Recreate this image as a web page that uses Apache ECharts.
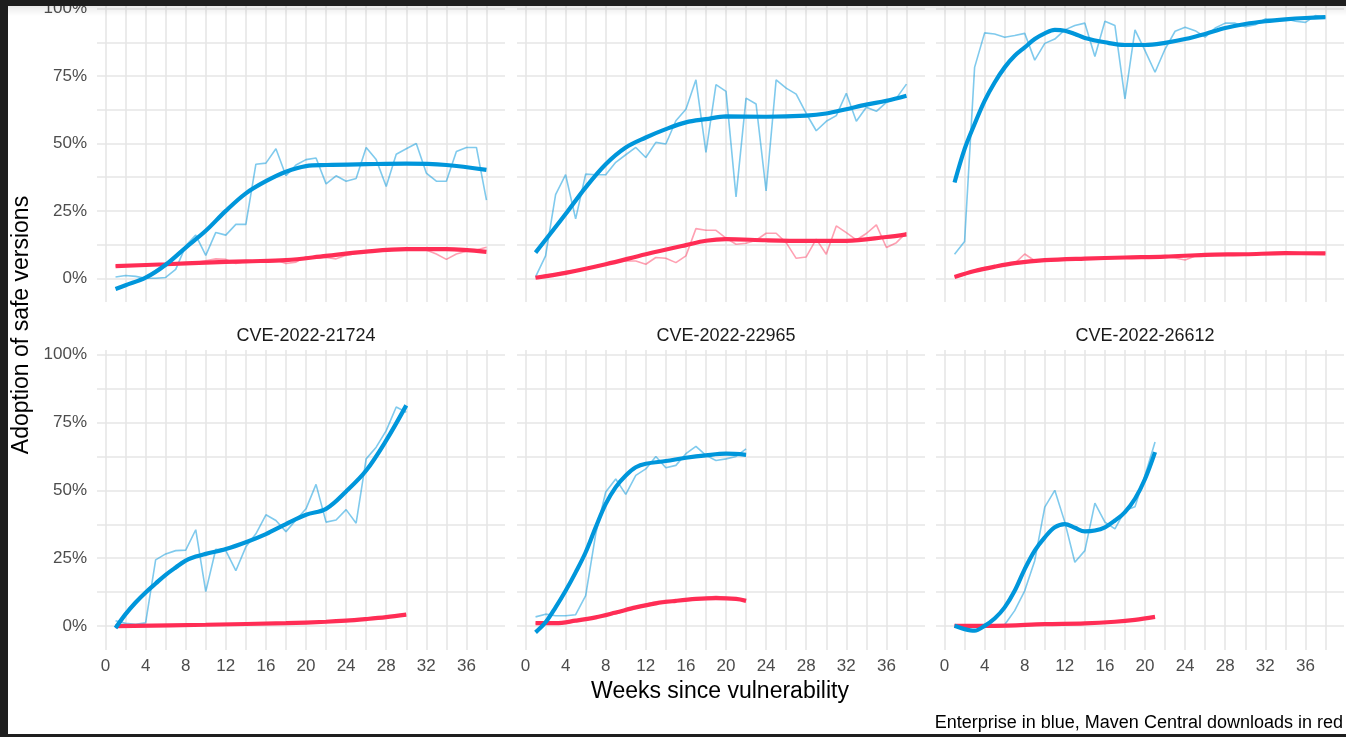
<!DOCTYPE html>
<html>
<head>
<meta charset="utf-8">
<script src="https://cdn.jsdelivr.net/npm/echarts@6/dist/echarts.min.js"></script>
<style>
  html, body { margin: 0; padding: 0; background: #fff; }
  #chart { width: 1346px; height: 737px; }
</style>
</head>
<body>
<div id="chart"></div>
<script>
// panel titles (top row strips are cut off in the picture)
var panelNames = ['', '', '', 'CVE-2022-21724', 'CVE-2022-22965', 'CVE-2022-26612'];
var xLabelTicks = [0, 4, 8, 12, 16, 20, 24, 28, 32, 36];
var xGridTicks = [0, 2, 4, 6, 8, 10, 12, 14, 16, 18, 20, 22, 24, 26, 28, 30, 32, 34, 36, 38];
var yLabelTicks = [0, 25, 50, 75, 100];
var yGridTicks = [0, 12.5, 25, 37.5, 50, 62.5, 75, 87.5, 100];

// weekly values, week 1 first (percent)
var blueRaw1 = [0.5, 1, 0.7, 0, 0, 0.3, 3.3, 12, 16, 8.5, 17, 16, 20, 20, 42.3, 42.7, 48, 38, 42, 44, 44.6, 35, 38, 36, 37, 48.5, 44, 34, 46, 48, 50, 39, 36, 36, 47, 48.5, 48.5, 29];
var redRaw1 = [4.5, 5, 5, 5, 5.3, 5.3, 5.5, 5.2, 5.8, 6.5, 7.2, 7, 5.5, 6.2, 6.3, 6.5, 6.8, 5.5, 6, 8, 7.5, 7.7, 7.2, 8.5, 9.2, 9.8, 10, 10, 10.5, 10.5, 11, 10.5, 9, 7, 9, 10, 10.5, 11.5];
var blueRaw2 = [0.5, 8.3, 31, 38.4, 22, 38.6, 38.4, 38.4, 43, 45.8, 48.5, 44.8, 50.4, 49.8, 58.4, 62.7, 73.6, 46.7, 71.8, 69.3, 30.2, 66.8, 64.6, 32.4, 73.6, 70.5, 68.3, 61.1, 54.7, 58.2, 60.3, 68.6, 58.2, 63.4, 61.9, 65.2, 66.8, 72];
var redRaw2 = [0.2, 1.2, 1.6, 2.5, 3, 3.7, 4.5, 5.3, 6, 6.4, 6.4, 5.2, 7.7, 7.4, 5.8, 8.3, 18.4, 17.8, 17.8, 14.9, 12.6, 13, 14.1, 16.7, 16.7, 13.2, 7.4, 7.9, 14.5, 8.9, 19.4, 16.9, 14.2, 16.6, 19.8, 11.4, 13.2, 17];
var blueRaw3 = [8.9, 13.6, 78.2, 91, 90.6, 89.4, 90, 90.8, 80.9, 87.1, 88.7, 92.1, 93.7, 94.6, 82.2, 95.3, 93.7, 66.5, 92.1, 84.4, 76.4, 85, 91.6, 93.1, 91.8, 89.4, 92.8, 94.6, 94.6, 93.3, 94, 96.2, 95.8, 96.2, 95.3, 94.9, 97.4, 96.8];
var redRaw3 = [0.5, 1.2, 3, 4, 4.3, 5, 5.5, 9, 6.5, 6.7, 6.8, 7, 7, 7.2, 7.3, 7.3, 7.5, 7.7, 7.6, 7.8, 7.9, 8, 7.5, 6.8, 8.3, 8.6, 8.7, 8.8, 8.9, 9, 9.1, 9.2, 9.3, 9.3, 9.4, 9.3, 9.2, 9.3];
var blueRaw4 = [2, 1, 0.7, 1.2, 24.4, 26.6, 27.8, 28, 35.5, 12.7, 28.3, 27.8, 20.4, 29.2, 34, 41, 38.9, 34.8, 39.1, 43.2, 52.2, 38.3, 39.1, 42.9, 37.9, 61.6, 65.9, 72, 80.7, 78.8];
var redRaw4 = [0, 0.2, 0.3, 0.3, 0.4, 0.4, 0.5, 0.5, 0.5, 0.6, 0.6, 0.7, 0.7, 0.8, 0.8, 0.9, 1, 1, 1.1, 1.2, 1.3, 1.5, 1.7, 2, 2.3, 2.6, 3, 3.4, 3.8, 4.2];
var blueRaw5 = [3.4, 4.4, 3.8, 3.8, 4.2, 11.2, 33.9, 49.4, 54.2, 48.5, 55.5, 57.9, 62.5, 58.3, 59.2, 63.5, 66.2, 62.9, 61, 61.6, 62.5, 65.3];
var redRaw5 = [1, 1.2, 1.3, 1.5, 2, 2.5, 3.3, 4, 4.5, 5.8, 7, 8, 9, 9.5, 9.2, 10, 9.5, 10.5, 11, 10.5, 10, 9.5];
var blueRaw6 = [0.5, 0, 0, 0, 0, 0.5, 5.7, 13, 24.1, 43.8, 50, 38.3, 23.5, 27.8, 45.3, 38.3, 35.8, 42.6, 44, 55.5, 67.8];
var redRaw6 = [0, 0, 0, 0.1, 0.1, 0.2, 0.3, 0.4, 0.5, 0.6, 0.7, 0.8, 0.9, 1, 1.1, 1.3, 1.5, 1.8, 2.2, 2.8, 3.5];

// smoothed trend, [week, percent]
var blueFit1 = [[1, -4], [2, -2.6], [4, 0.2], [6, 5], [8, 11.4], [10, 17.6], [12, 25], [14, 31.5], [16, 36], [18, 39.5], [20, 41.6], [22, 42], [26, 42.3], [30, 42.5], [34, 42], [38, 40.2]];
var redFit1 = [[1, 4.5], [6, 5.2], [10, 5.8], [14, 6.3], [18, 6.7], [22, 8.3], [26, 9.9], [30, 10.8], [34, 10.8], [38, 9.8]];
var blueFit2 = [[1, 9.5], [4, 23.8], [6, 33.7], [8, 42.3], [10, 48.5], [12, 52.2], [14, 55.3], [16, 57.8], [18, 59], [20, 60], [24, 59.9], [28, 60.3], [30, 61.1], [32, 62.7], [34, 64.4], [36, 65.8], [38, 67.7]];
var redFit2 = [[1, 0.2], [4, 2], [8, 5.2], [12, 8.9], [16, 12.3], [18, 13.9], [20, 14.5], [24, 14.1], [28, 13.9], [32, 13.9], [36, 15.3], [38, 16.3]];
var blueFit3 = [[1, 35.5], [2, 47.9], [3, 57.2], [4, 65.8], [5, 72.6], [6, 78.2], [7, 82.5], [8, 85.6], [9, 88.7], [10, 90.8], [11, 92.1], [12, 91.8], [13, 90.6], [14, 89.1], [16, 87.5], [18, 86.5], [20, 86.5], [22, 87.3], [24, 88.7], [26, 90.6], [28, 92.8], [30, 94.3], [32, 95.3], [34, 96], [36, 96.5], [38, 96.8]];
var redFit3 = [[1, 0.5], [3, 2.7], [5, 4.3], [7, 5.6], [10, 6.7], [14, 7.3], [18, 7.7], [22, 8], [26, 8.7], [30, 8.9], [34, 9.3], [38, 9.2]];
var blueFit4 = [[1, -0.7], [2, 4.4], [3, 8.7], [4, 12.4], [5, 15.7], [6, 18.9], [7, 21.6], [8, 24.1], [9, 25.6], [10, 26.6], [12, 28.4], [14, 30.9], [16, 33.9], [18, 37.6], [20, 41], [22, 43.2], [24, 49.6], [26, 57.3], [28, 68.4], [30, 81.3]];
var redFit4 = [[1, 0], [10, 0.5], [18, 1.1], [22, 1.6], [24, 2], [26, 2.6], [28, 3.3], [30, 4.2]];
var blueFit5 = [[1, -2.3], [2, 1.4], [3, 6.9], [4, 13], [5, 19.8], [6, 27.2], [7, 36.4], [8, 45], [9, 51.2], [10, 55.5], [11, 58.5], [12, 59.8], [14, 60.8], [16, 62], [18, 62.9], [20, 63.5], [22, 63.1]];
var redFit5 = [[1, 1.1], [3, 1.1], [5, 2], [7, 3.2], [9, 5], [11, 6.9], [13, 8.4], [15, 9.3], [17, 10], [19, 10.3], [21, 10], [22, 9.3]];
var blueFit6 = [[1, 0.1], [2, -1.1], [3, -1.7], [4, 0.1], [5, 2.8], [6, 6.9], [7, 13], [8, 21], [9, 27.8], [10, 32.7], [11, 36.4], [12, 37.6], [13, 36.2], [14, 34.9], [15, 35.2], [16, 36.4], [17, 38.9], [18, 42], [19, 46.9], [20, 54.2], [21, 64.1]];
var redFit6 = [[1, 0.1], [5, 0.1], [10, 0.7], [14, 1], [17, 1.6], [19, 2.3], [21, 3.4]];

var blueRaw = [blueRaw1, blueRaw2, blueRaw3, blueRaw4, blueRaw5, blueRaw6];
var redRaw = [redRaw1, redRaw2, redRaw3, redRaw4, redRaw5, redRaw6];
var blueFit = [blueFit1, blueFit2, blueFit3, blueFit4, blueFit5, blueFit6];
var redFit = [redFit1, redFit2, redFit3, redFit4, redFit5, redFit6];

var BLUE = '#0096db';
var RED = '#ff2d55';
var FONT = '"Liberation Sans", Arial, sans-serif';

function byWeek(arr) {
  return arr.map(function (v, i) { return [i + 1, v]; });
}

var myChart = echarts.init(document.getElementById('chart'));

var lefts = [97, 517, 936];
var tops = [4, 350];
var heights = [298, 300];

var grids = [], xAxes = [], yAxes = [], series = [], titles = [];
for (var p = 0; p < 6; p++) {
  var col = p % 3, row = Math.floor(p / 3);
  grids.push({ left: lefts[col], top: tops[row], width: 408, height: heights[row] });
  xAxes.push({
    type: 'value', gridIndex: p, min: -0.85, max: 39.85,
    axisLine: { show: false },
    axisTick: { show: false, customValues: xGridTicks },
    axisLabel: {
      show: row === 1, customValues: xLabelTicks, margin: 8,
      color: '#4d4d4d', fontSize: 17, fontFamily: FONT
    },
    splitLine: { show: true, lineStyle: { color: '#e6e6e6', width: 1.6 } }
  });
  yAxes.push({
    type: 'value', gridIndex: p, min: -8.8, max: 101.7,
    axisLine: { show: false },
    axisTick: { show: false, customValues: yGridTicks },
    axisLabel: {
      show: col === 0, customValues: yLabelTicks, margin: 10,
      formatter: '{value}%', color: '#4d4d4d', fontSize: 17, fontFamily: FONT
    },
    splitLine: { show: true, lineStyle: { color: '#e6e6e6', width: 1.6 } }
  });
  series.push({
    type: 'line', xAxisIndex: p, yAxisIndex: p, data: byWeek(blueRaw[p]),
    showSymbol: false, lineStyle: { color: BLUE, width: 1.6, opacity: 0.5 }, z: 2
  });
  series.push({
    type: 'line', xAxisIndex: p, yAxisIndex: p, data: byWeek(redRaw[p]),
    showSymbol: false, lineStyle: { color: RED, width: 1.6, opacity: 0.45 }, z: 2
  });
  series.push({
    type: 'line', xAxisIndex: p, yAxisIndex: p, data: redFit[p], smooth: 0.35,
    showSymbol: false, lineStyle: { color: RED, width: 4.2 }, z: 3
  });
  series.push({
    type: 'line', xAxisIndex: p, yAxisIndex: p, data: blueFit[p], smooth: 0.35,
    showSymbol: false, lineStyle: { color: BLUE, width: 4.2 }, z: 4
  });
  if (panelNames[p]) {
    titles.push({
      text: panelNames[p], left: lefts[col] + 204, top: 322, textAlign: 'center',
      textStyle: { fontSize: 18, fontWeight: 'normal', color: '#1a1a1a', fontFamily: FONT }
    });
  }
}

option = {
  animation: false,
  backgroundColor: '#ffffff',
  title: titles,
  grid: grids,
  xAxis: xAxes,
  yAxis: yAxes,
  series: series,
  graphic: [
    {
      type: 'text', x: 22, y: 325, rotation: Math.PI / 2,
      style: { text: 'Adoption of safe versions', fontSize: 23, fill: '#000', fontFamily: FONT, textAlign: 'center', textVerticalAlign: 'middle' }
    },
    {
      type: 'text', x: 720, y: 692,
      style: { text: 'Weeks since vulnerability', fontSize: 23, fill: '#000', fontFamily: FONT, textAlign: 'center', textVerticalAlign: 'middle' }
    },
    {
      type: 'text', x: 1343, y: 723,
      style: { text: 'Enterprise in blue, Maven Central downloads in red', fontSize: 18, fill: '#000', fontFamily: FONT, textAlign: 'right', textVerticalAlign: 'middle' }
    },
    // screenshot frame
    { type: 'rect', z: 100, shape: { x: 0, y: 6, width: 1346, height: 10 },
      style: { fill: new echarts.graphic.LinearGradient(0, 0, 0, 1, [{ offset: 0, color: 'rgba(0,0,0,0.08)' }, { offset: 1, color: 'rgba(0,0,0,0)' }]) } },
    { type: 'rect', z: 100, shape: { x: 0, y: 0, width: 1346, height: 6 }, style: { fill: '#1e1e1e' } },
    { type: 'rect', z: 100, shape: { x: 0, y: 0, width: 8, height: 737 }, style: { fill: '#1e1e1e' } },
    { type: 'rect', z: 100, shape: { x: 0, y: 734, width: 1346, height: 3 }, style: { fill: '#1e1e1e' } }
  ]
};

myChart.setOption(option);
</script>
</body>
</html>
